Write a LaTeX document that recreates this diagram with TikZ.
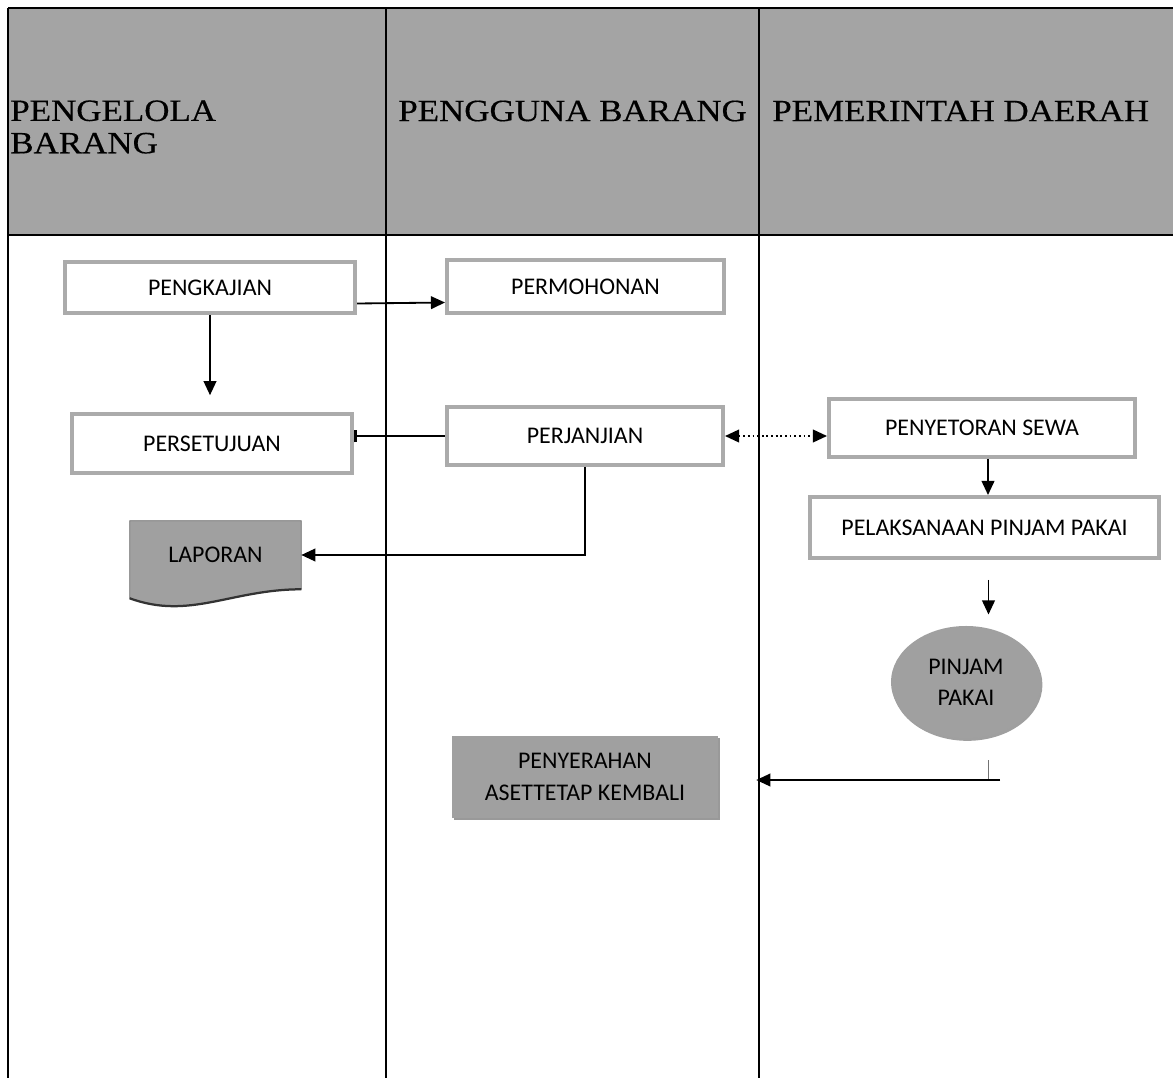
\documentclass[tikz,border=0pt]{standalone}
\usepackage{fontspec}
\setmainfont{Carlito}
\newfontfamily\headfont[FakeStretch=1.13, FakeBold=0.4]{Liberation Serif}
\usetikzlibrary{positioning, shapes.geometric, arrows.meta, calc, backgrounds, shadows}
\definecolor{lane}{HTML}{A4A4A4}
\definecolor{rim}{HTML}{ABABAB}
\definecolor{greyfill}{HTML}{A0A0A0}

\begin{document}
\begin{tikzpicture}[x=0.025cm, y=-0.025cm, font=\fontsize{17}{20}\selectfont,
  stepbox/.style={rectangle, draw=rim, line width=2.8pt, fill=white, inner sep=0pt},
  greybox/.style={rectangle, fill=greyfill, inner sep=0pt, align=center,
    drop shadow={shadow xshift=1.5pt, shadow yshift=-1.5pt, fill=black!80}},
  lanehead/.style={anchor=west, inner sep=0pt, align=left,
    font=\headfont\fontsize{22}{23}\selectfont},
  arr/.style={-{Triangle[length=10pt, width=9pt]}, line width=1.3pt},
  ]
  \useasboundingbox (0,0) rectangle (1173,1078);

  % lanes
  \fill[lane] (8,8) rectangle (1173,235);
  \draw[line width=1.4pt] (8,8) -- (1173,8);
  \draw[line width=1pt] (8,235) -- (1173,235);
  \foreach \lx in {8, 386, 759}
    \draw[line width=0.9pt] (\lx,8) -- (\lx,1078);

  \node[lanehead] (h1) at (10,127) {PENGELOLA\\BARANG};
  \node[lanehead] (h2) at (398,111) {PENGGUNA BARANG};
  \node[lanehead] (h3) at (772,111) {PEMERINTAH DAERAH};

  % steps
  \node[stepbox, minimum width=7.25cm, minimum height=1.275cm] (kaji) at (210,287.5) {PENGKAJIAN};
  \node[stepbox, minimum width=6.925cm, minimum height=1.325cm] (mohon) at (585.5,286.5) {PERMOHONAN};
  \node[stepbox, minimum width=7cm, minimum height=1.475cm] (setuju) at (212,443.5) {PERSETUJUAN};
  \node[stepbox, minimum width=6.9cm, minimum height=1.45cm] (janji) at (585,436) {PERJANJIAN};
  \node[stepbox, minimum width=7.65cm, minimum height=1.45cm] (sewa) at (982,428) {PENYETORAN SEWA};
  \node[stepbox, minimum width=8.725cm, minimum height=1.525cm] (laksana) at (984.5,527.5) {PELAKSANAAN PINJAM PAKAI};
  \node[ellipse, fill=greyfill, minimum width=3.75cm, minimum height=2.8cm, align=center,
    drop shadow={shadow xshift=1pt, shadow yshift=-2pt, fill=black!75}] (pinjam) at (966,682) {PINJAM\\[2pt]PAKAI};
  \node[greybox, minimum width=6.65cm, minimum height=2.05cm] (serah) at (585,777)
    {PENYERAHAN\\[3pt]ASETTETAP KEMBALI};
  \node[minimum width=4.275cm, minimum height=1.7cm, inner sep=0pt] (lap) at (215.5,555) {LAPORAN};
  \begin{scope}[on background layer]
    \fill[greyfill, draw=black!55, line width=0.5pt] (lap.north west) -- (lap.north east) -- (lap.south east)
      .. controls +(-70,0) and +(60,22) .. ($(lap.south west)+(0,9)$) -- cycle;
    \draw[black!80, line width=1.6pt] (lap.south east)
      .. controls +(-70,0) and +(60,22) .. ($(lap.south west)+(0,9)$);
  \end{scope}

  % connectors
  \draw[arr] ([yshift=-0.4cm]kaji.east) -- ([yshift=-0.4cm]mohon.west);
  \draw[arr, shorten >=0.42cm] (kaji.south) -- (kaji.south |- setuju.north);
  \draw[-{Bar[width=9pt, line width=2.2pt]}, line width=1.3pt] (janji.west) -- (janji.west -| setuju.east);
  \draw[{Triangle[length=10pt, width=9pt]}-{Triangle[length=10pt, width=9pt]}, line width=1.3pt, dotted]
    (janji.east) -- (janji.east -| sewa.west);
  \draw[arr] (janji.south) |- (lap.east);
  \draw[arr] ([xshift=0.15cm]sewa.south) -- ([xshift=0.15cm]sewa.south |- laksana.north);
  \draw[arr, shorten <=0.5cm, shorten >=0.28cm] ([xshift=0.1cm]laksana.south) -- ([xshift=0.1cm]laksana.south |- pinjam.north);
  \coordinate (stub) at (1000,780);
  \draw[black!55, line width=0.6pt] ([xshift=-0.3cm]stub) -- ++(0,-20);
  \draw[arr, shorten >=0.95cm] (stub) -- (stub -| serah.east);
\end{tikzpicture}
\end{document}
